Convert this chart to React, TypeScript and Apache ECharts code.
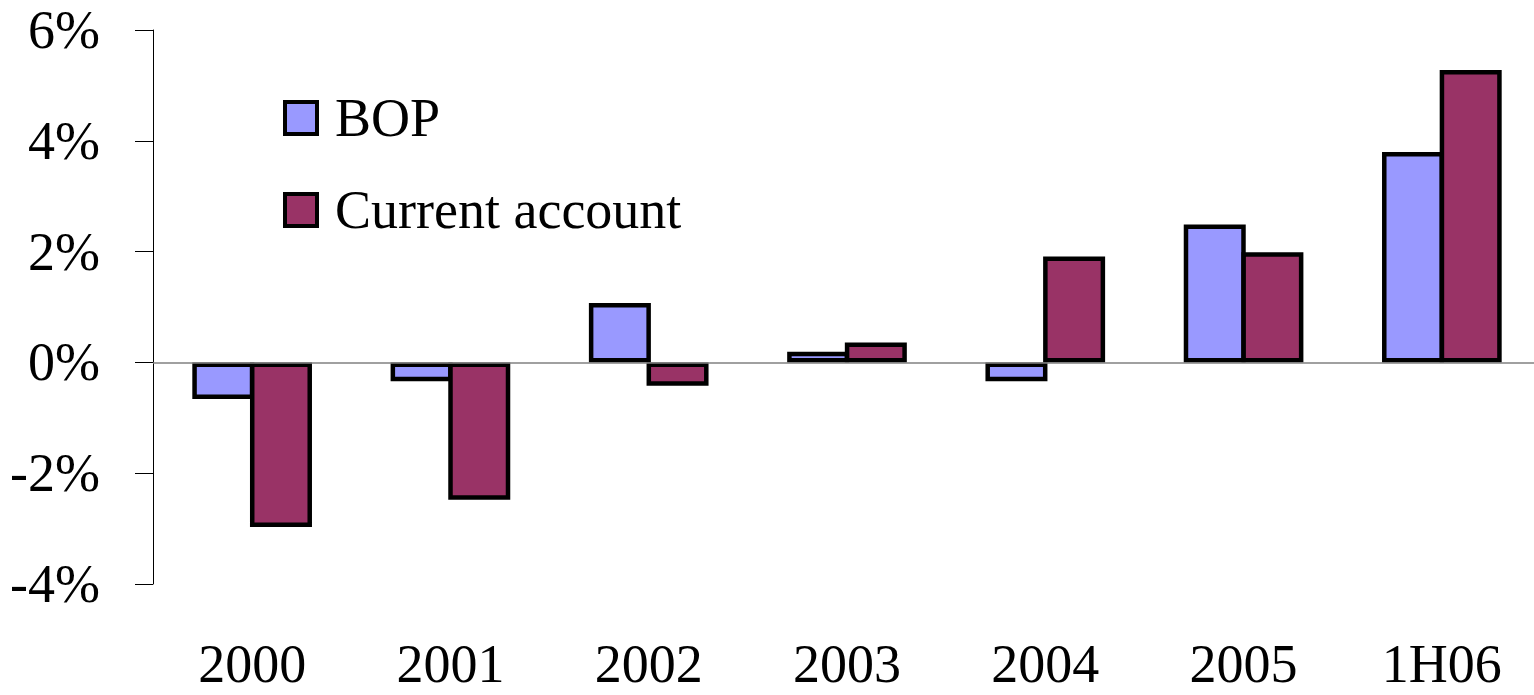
import React, { useEffect, useRef } from "react";
import * as echarts from "echarts";

const categories = ["2000", "2001", "2002", "2003", "2004", "2005", "1H06"];
const bopValues = [-0.66, -0.34, 1.07, 0.19, -0.34, 2.49, 3.8];
const currentAccountValues = [-2.97, -2.48, -0.42, 0.36, 1.91, 1.99, 5.28];
const yTicks = { min: -4, max: 6, interval: 2 };

const FONT = "'Liberation Serif', 'Times New Roman', serif";

export default function App() {
  const ref = useRef<HTMLDivElement>(null);
  useEffect(() => {
    if (!ref.current) return;
    const chart = echarts.init(ref.current, null, { renderer: "svg" });
    chart.setOption({
      animation: false,
      backgroundColor: "#ffffff",
      grid: {
        left: 153,
        width: 1388,
        top: 30,
        bottom: 111,
        containLabel: false,
        outerBoundsMode: "none",
      },
      legend: {
        orient: "vertical",
        left: 278,
        top: 86,
        icon: "rect",
        itemWidth: 32,
        itemHeight: 32,
        itemGap: 38,
        itemStyle: { borderColor: "#000000", borderWidth: 4 },
        textStyle: {
          fontFamily: FONT,
          fontSize: 54,
          color: "#000000",
          padding: [0, 0, 0, 13],
        },
        data: ["BOP", "Current account"],
      },
      xAxis: {
        type: "category",
        data: categories,
        position: "bottom",
        axisLine: { show: false, onZero: false },
        axisTick: { show: false },
        axisLabel: {
          fontFamily: FONT,
          fontSize: 54,
          color: "#000000",
          margin: 58,
          lineHeight: 44,
        },
        splitLine: { show: false },
      },
      yAxis: {
        type: "value",
        min: yTicks.min,
        max: yTicks.max,
        interval: yTicks.interval,
        axisLine: { show: true, lineStyle: { color: "#000000", width: 1 } },
        axisTick: { show: true, length: 18, inside: false, lineStyle: { color: "#000000", width: 1 } },
        axisLabel: {
          fontFamily: FONT,
          fontSize: 54,
          color: "#000000",
          margin: 53,
          formatter: (v: number) => `${v}%`,
        },
        splitLine: { show: false },
      },
      series: [
        {
          name: "BOP",
          type: "bar",
          data: bopValues,
          barWidth: 62,
          barGap: "-7%",
          itemStyle: { color: "#9999FF", borderColor: "#000000", borderWidth: 4.5 },
          markLine: {
            silent: true,
            symbol: "none",
            label: { show: false },
            lineStyle: { color: "#808080", width: 1.5, type: "solid" },
            data: [{ yAxis: 0 }],
          },
          z: 2,
        },
        {
          name: "Current account",
          type: "bar",
          data: currentAccountValues,
          barWidth: 62,
          barGap: "-7%",
          itemStyle: { color: "#993366", borderColor: "#000000", borderWidth: 4.5 },
          z: 3,
        },
      ],
    });
    return () => chart.dispose();
  }, []);
  return <div ref={ref} style={{ width: 1534, height: 695, position: "absolute", left: 0, top: 0 }} />;
}
